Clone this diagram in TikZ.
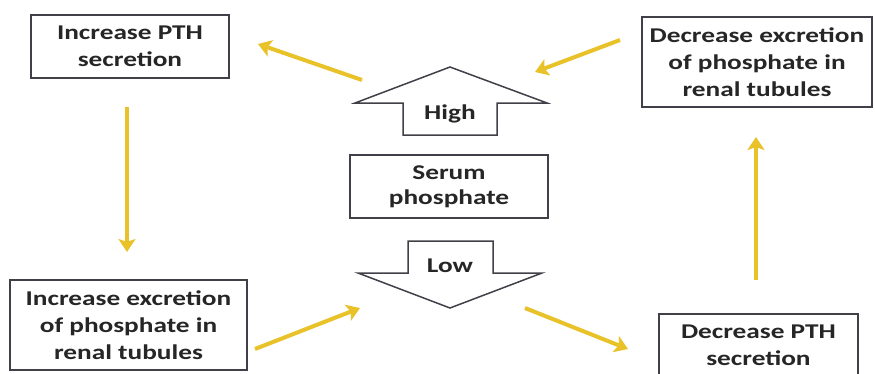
\documentclass[tikz,border=0pt]{standalone}
\usepackage{fontspec}
\setmainfont{Carlito}[FakeStretch=1.3]
\usetikzlibrary{arrows.meta}

\definecolor{boxgray}{RGB}{64,64,72}
\definecolor{flowyellow}{RGB}{232,194,40}

\tikzset{
  infobox/.style={draw=boxgray, line width=1.5pt, fill=white, inner sep=0pt,
    align=center, text=black!85, font=\bfseries\fontsize{21}{27}\selectfont},
  levelarrow/.style={draw=boxgray, line width=1.5pt, fill=white, line join=miter},
  flow/.style={draw=flowyellow, line width=4pt,
    -{Stealth[length=13pt,width=17pt,inset=3pt]}}
}

\begin{document}
\begin{tikzpicture}[x=1pt,y=-1pt]

\useasboundingbox (0,0) rectangle (875,373);

% Boxes
\node[infobox, minimum width=198, minimum height=63] (incPTH) at (130,46.5)
  {Increase PTH\\secretion};
\node[infobox, minimum width=230, minimum height=90] (decExc) at (757,62)
  {Decrease excretion\\of phosphate in\\renal tubules};
\node[infobox, minimum width=237, minimum height=90] (incExc) at (128.5,325)
  {Increase excretion\\of phosphate in\\renal tubules};
\node[infobox, minimum width=199, minimum height=63] (decPTH) at (758.5,345.5)
  {Decrease PTH\\secretion};
\node[infobox, minimum width=198, minimum height=63, font=\bfseries\fontsize{21}{25}\selectfont]
  (serum) at (449,186.5) {Serum\\phosphate};

% High arrow (pointing up)
\draw[levelarrow] (450,67) -- (547,103) -- (497,103) -- (497,135)
  -- (403,135) -- (403,103) -- (355,103) -- cycle;
\node[infobox, draw=none, fill=none] (high) at (450,114) {High};

% Low arrow (pointing down)
\draw[levelarrow] (408,241) -- (493,241) -- (493,273) -- (542,273)
  -- (450,308) -- (358,273) -- (408,273) -- cycle;
\node[infobox, draw=none, fill=none] (low) at (450,266) {Low};

% Ends of the yellow arrows
\coordinate (h1) at (362,80);
\coordinate (h2) at (258,44);
\coordinate (h3) at (620,40);
\coordinate (h4) at (535,72);
\coordinate (v1) at (127,107);
\coordinate (v2) at (127,252);
\coordinate (v3) at (756,280);
\coordinate (v4) at (756,137);
\coordinate (l1) at (255,349);
\coordinate (l2) at (360,308);
\coordinate (l3) at (525,308);
\coordinate (l4) at (628,349);

% Yellow arrows
\draw[flow] (h1) -- (h2);
\draw[flow] (h3) -- (h4);
\draw[flow] (v1) -- (v2);
\draw[flow] (v3) -- (v4);
\draw[flow] (l1) -- (l2);
\draw[flow] (l3) -- (l4);

\end{tikzpicture}
\end{document}
